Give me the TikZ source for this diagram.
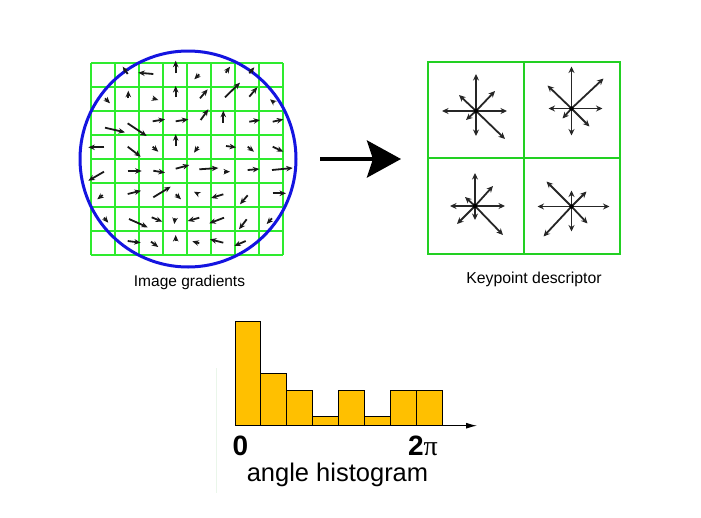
\documentclass[tikz,border=0pt]{standalone}
\usepackage{fontspec}
\setmainfont{Liberation Sans}
\newfontfamily\greekserif{Liberation Serif}
\usetikzlibrary{arrows.meta}
\definecolor{GridGreen}{HTML}{2EEB2E}
\definecolor{BoxGreen}{HTML}{22D022}
\definecolor{RingBlue}{HTML}{1414E0}
\definecolor{BarGold}{HTML}{FFC000}
\definecolor{FaintGreen}{HTML}{EAF6EA}
\begin{document}
\begin{tikzpicture}[x=1pt, y=-1pt,
  grad/.style={line width=1.8pt, black!90, -{Stealth[length=6.5pt,width=5.5pt]}},
  spoke/.style={line width=1.8pt, black!85, -{Stealth[length=6.5pt,width=6pt]}},
  bar/.style={fill=BarGold, draw=black, line width=0.9pt},
  label/.style={anchor=base, inner sep=0pt}]
\useasboundingbox (0,0) rectangle (701,517);
% image gradients
\foreach \i in {0,...,8} {
  \draw[draw=GridGreen, line width=1.3pt] (91+24*\i,63) -- (91+24*\i,255);
  \draw[draw=GridGreen, line width=1.3pt] (91,63+24*\i) -- (283,63+24*\i);
}
\draw[RingBlue, line width=3pt] (188,159) circle (108);
\foreach \xa/\ya/\xb/\yb in {
  127.7/74/122.7/66.7, 153.3/74/138.3/72.7, 175.7/73.3/175.7/60.7, 199.3/74.3/194.3/79.3,
  225.7/72.7/230/66.7, 249.3/73.3/254.3/67.3,
  105/98.3/110/103.3, 128.3/98.3/128.3/90.7, 152.7/98.3/158.3/100, 175.7/97.3/175.7/86,
  200/98.3/207.7/89.3, 225/97.3/240/82.7, 249.3/96.7/257.3/87.3, 274.3/102.7/270/99.3,
  105/127.7/125/132.3, 127.7/123.3/146.7/136, 152.7/121.3/165/119.3, 175.7/121.3/188.3/119.3,
  200.7/120/208.3/109.3, 223.3/122.7/223.3/110.7, 249.3/121.7/260/120, 272.7/121.7/283.3/119.3,
  104.3/147.3/88.3/147.3, 127.7/146.7/140.7/156.7, 152.7/146.7/158.3/151.7, 175.7/146/175.7/134.3,
  198.3/146.7/194/152.7, 226/146/236/147.3, 247.7/146.7/254/151.7, 272.7/146.7/283.3/151.7,
  104/171.7/88.3/180.7, 127.7/171/141.7/171, 153.3/170.7/165/172.7, 175.7/168.7/189.3/165,
  199.3/169.3/218.3/168, 224/171.7/230/171.7, 247.7/170/259.3/169, 272/170/292.7/168,
  102.7/195/97.3/199.3, 127.7/194/141/190.7, 153.3/197.3/170.7/186.7, 175.7/194.3/181/199.3,
  198.3/194/194/191.7, 223.3/194.3/211/198, 247.7/195.3/240/204.3, 272.7/193.3/286/193.3,
  104/217.7/108.3/222.7, 129/219/147.7/227.3, 151.7/217.3/162.3/221.7, 175/218.3/174.3/224,
  199.3/217.7/187.7/221, 224/217.7/209.3/223.3, 246.7/219.3/239/229.3, 272/218.3/266.7/224,
  127.7/241/140.7/242.7, 151/241.7/158.3/247, 175.7/241.3/175.7/235, 199.3/243.3/192.3/241.3,
  223.3/242.7/210/239.3, 245.7/241/234.3/246}
  \draw[grad] (\xa,\ya) -- (\xb,\yb);
\node[label, font=\fontsize{15.5}{18}\selectfont] (gradlabel) at (189.5,286.5) {Image gradients};
% big arrow
\coordinate (arrowstart) at (320,159);
\coordinate (arrowend) at (401,159);
\draw[line width=4pt, -{Stealth[length=34pt,width=37pt,inset=6pt]}] (arrowstart) -- (arrowend);
% keypoint descriptor
\draw[BoxGreen, line width=2pt] (428,62) rectangle (620,254);
\draw[BoxGreen, line width=2pt] (524,62) -- (524,254);
\draw[BoxGreen, line width=2pt] (428,158) -- (620,158);
\coordinate (cella) at (476,111);
\coordinate (cellb) at (571.5,108.5);
\coordinate (cellc) at (475,206);
\coordinate (celld) at (571.5,206.5);
\foreach \dx/\dy in {0/-37, 0/25, -34/0, 31/0, 19/-20, -17/-16, -10/9, 29/28}
  \draw[spoke] (cella) -- ++(\dx,\dy);
\foreach \dx/\dy in {0/-42, 0/27, -23/0, 31/0, 32/-30, -24/-23, -9/10, 18/18}
  \draw[spoke] (cellb) -- ++(\dx,\dy);
\foreach \dx/\dy in {0/-33, 0/14, -25/0, 30/0, 18/-20, -10/-9, -18/18, 28/29}
  \draw[spoke] (cellc) -- ++(\dx,\dy);
\foreach \dx/\dy in {0/-16, 0/25, -34/0, 38/0, 15/-15, -25/-25, -28/30, 16/17}
  \draw[spoke] (celld) -- ++(\dx,\dy);
\foreach \c in {cella,cellb,cellc,celld}
  \fill (\c) circle (2.2);
\node[label, font=\fontsize{15.8}{18}\selectfont] (desclabel) at (534,283.3) {Keypoint descriptor};
% angle histogram
\draw[FaintGreen, line width=0.8pt] (216.7,368) -- (216.7,493);
\foreach \i/\h in {0/104, 1/52, 2/35, 3/9, 4/35, 5/9, 6/35, 7/35}
  \draw[bar] (235+25.9*\i,425.7) rectangle ++(25.9,-\h);
\coordinate (axisstart) at (235,425.7);
\coordinate (axisend) at (477,425.7);
\draw[line width=1pt, -{Latex[length=11pt,width=6pt]}] (axisstart) -- (axisend);
\node[label, font=\fontsize{28}{30}\selectfont\bfseries] (zerolabel) at (240.3,455) {0};
\node[label, font=\fontsize{28}{30}\selectfont] (twopilabel) at (423,455) {\textbf{2}{\greekserif π}};
\node[label, font=\fontsize{25.5}{28}\selectfont] (histlabel) at (337.5,481.7) {angle histogram};
\end{tikzpicture}
\end{document}
